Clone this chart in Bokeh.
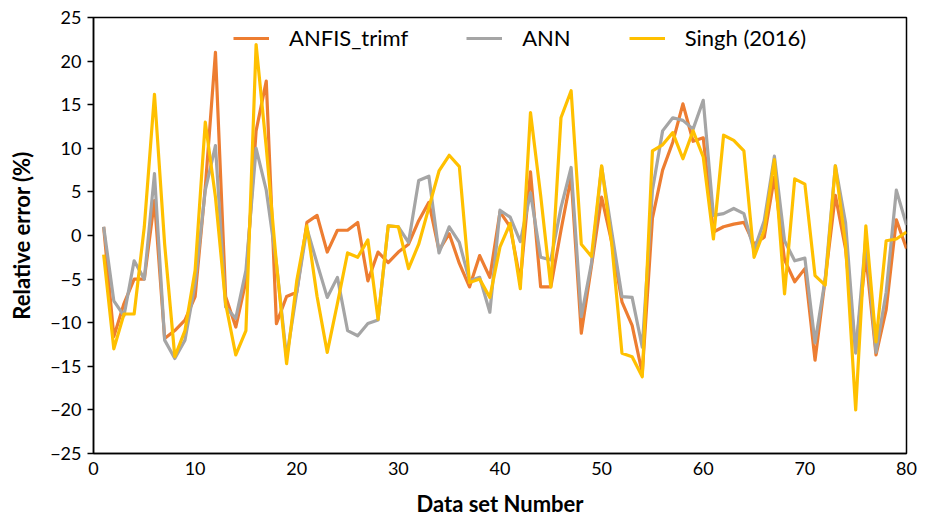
from bokeh.plotting import figure
from bokeh.models import Range1d, FixedTicker, Legend, LegendItem
from bokeh.embed import file_html
from bokeh.resources import INLINE

data_set = list(range(1, 81))

anfis_trimf = [1.0, -11.6, -7.8, -5.0, -5.0, 4.0, -11.8, -10.9, -9.7, -7.0,
               5.5, 21.0, -7.0, -10.5, -5.2, 12.0, 17.7, -10.1, -7.0, -6.5,
               1.5, 2.3, -1.9, 0.6, 0.6, 1.5, -5.2, -1.9, -3.1, -1.9,
               -1.0, 1.7, 3.8, -1.7, 0.2, -3.2, -5.9, -2.3, -4.8, 2.7,
               1.0, -5.2, 7.3, -5.9, -5.9, 0.6, 6.7, -11.2, -3.5, 4.4,
               -0.8, -7.6, -10.3, -15.8, 2.0, 7.5, 10.7, 15.1, 10.8, 11.2,
               0.4, 1.0, 1.3, 1.5, -1.0, -0.2, 6.7, -2.8, -5.3, -3.8,
               -14.3, -5.0, 4.6, -1.5, -13.3, -2.3, -13.7, -8.5, 1.8, -1.5]

ann = [1.0, -7.5, -9.2, -2.9, -5.0, 7.1, -12.0, -14.1, -12.0, -5.5,
       5.2, 10.3, -8.2, -9.5, -4.0, 10.0, 5.2, -3.2, -14.0, -6.5,
       0.8, -3.2, -7.1, -4.8, -10.9, -11.5, -10.1, -9.7, 1.1, 1.0,
       -0.8, 6.3, 6.8, -2.0, 1.0, -0.8, -5.2, -4.8, -8.8, 2.9,
       2.1, -0.7, 4.9, -2.5, -2.8, 3.2, 7.8, -9.3, -3.2, 7.9,
       0.4, -7.0, -7.1, -12.8, 5.2, 12.0, 13.5, 13.2, 12.2, 15.5,
       2.3, 2.5, 3.1, 2.5, -1.7, 1.7, 9.1, -0.6, -2.9, -2.6,
       -12.3, -5.0, 8.0, 1.5, -13.5, -0.2, -13.4, -6.5, 5.2, 1.2]

singh_2016 = [-2.2, -13.0, -9.0, -9.0, 1.0, 16.2, -1.0, -13.9, -10.9, -4.0,
              13.0, 4.4, -7.8, -13.7, -10.9, 21.9, 10.1, -3.2, -14.7, -5.2,
              1.1, -7.0, -13.4, -7.8, -2.0, -2.5, -0.5, -9.6, 1.1, 1.0,
              -3.8, -1.0, 3.2, 7.4, 9.2, 7.9, -5.4, -5.0, -7.1, -1.3,
              1.4, -6.1, 14.1, 4.6, -5.9, 13.5, 16.6, -1.0, -2.4, 8.0,
              -1.0, -13.5, -13.9, -16.2, 9.7, 10.4, 11.8, 8.8, 12.0, 9.0,
              -0.4, 11.5, 10.9, 9.7, -2.5, 0.6, 8.7, -6.7, 6.5, 5.9,
              -4.6, -5.7, 8.0, -1.0, -20.0, 1.1, -12.2, -0.6, -0.4, 0.4]

series_names = ["ANFIS_trimf", "ANN", "Singh (2016)"]
series_colors = ["#ED7D31", "#A5A5A5", "#FFC000"]

x_ticks = [0, 10, 20, 30, 40, 50, 60, 70, 80]
y_ticks = [-25, -20, -15, -10, -5, 0, 5, 10, 15, 20, 25]

FONT = "Lato"

p = figure(width=930, height=519, output_backend="svg", toolbar_location=None,
           x_range=Range1d(0, 80), y_range=Range1d(-25, 25),
           min_border_left=93, min_border_right=24, min_border_top=17,
           min_border_bottom=66)
p.background_fill_color = "white"
p.border_fill_color = "white"
p.outline_line_color = "black"
p.outline_line_width = 1.5
p.xgrid.visible = False
p.ygrid.visible = False

renderers = []
for ys, c in zip([anfis_trimf, ann, singh_2016], series_colors):
    r = p.line(data_set, ys, line_color=c, line_width=3.2, line_join="round")
    renderers.append(r)

legend = Legend(items=[LegendItem(label=n, renderers=[r]) for n, r in zip(series_names, renderers)],
                location=(138, 400), orientation="horizontal")
legend.background_fill_alpha = 0
legend.border_line_alpha = 0
legend.label_text_font = FONT
legend.label_text_font_size = "22px"
legend.label_text_color = "black"
legend.glyph_width = 36
legend.spacing = 58
legend.label_standoff = 20
legend.margin = 0
legend.padding = 2
p.add_layout(legend)

p.xaxis.ticker = FixedTicker(ticks=x_ticks)
p.yaxis.ticker = FixedTicker(ticks=y_ticks)
p.xaxis.major_tick_out = 0
p.xaxis.major_tick_in = 0
p.xaxis.minor_tick_out = 0
p.xaxis.minor_tick_in = 0
p.yaxis.major_tick_out = 6
p.yaxis.major_tick_in = 0
p.yaxis.minor_tick_out = 0
p.yaxis.minor_tick_in = 0
for ax in (p.xaxis, p.yaxis):
    ax.axis_line_color = "black"
    ax.axis_line_width = 1.5
    ax.major_tick_line_color = "black"
    ax.major_tick_line_width = 1.5
    ax.major_label_text_font = FONT
    ax.major_label_text_font_size = "18px"
    ax.major_label_text_color = "black"
    ax.axis_label_text_font = FONT
    ax.axis_label_text_font_size = "22px"
    ax.axis_label_text_font_style = "bold"
    ax.axis_label_text_color = "black"

p.xaxis.axis_label = "Data set Number"
p.yaxis.axis_label = "Relative error (%)"
p.xaxis.major_label_standoff = 8
p.yaxis.major_label_standoff = 6
p.xaxis.axis_label_standoff = 12
p.yaxis.axis_label_standoff = 12

open("out.html", "w").write(file_html(p, INLINE))
